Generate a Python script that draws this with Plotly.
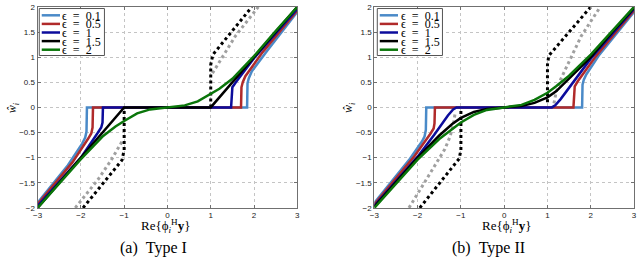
import plotly.graph_objects as go

W, H = 640, 267

EPS_LABELS = ["ϵ\u2002=\u20020.1", "ϵ\u2002=\u20020.5", "ϵ\u2002=\u20021",
              "ϵ\u2002=\u20021.5", "ϵ\u2002=\u20022"]
COLORS = ["#4a8ac8", "#b02a2a", "#0c0c9c", "#000000", "#0a760a"]

X_TICKS = [-3, -2, -1, 0, 1, 2, 3]
Y_TICKS = [-2, -1.5, -1, -0.5, 0, 0.5, 1, 1.5, 2]

# ---------------- Type I ----------------
T1_E01_X = [-3, -2.3, -1.97, -1.9, -1.87, -1.86, 1.84, 1.85, 1.88, 1.95, 2.3, 3]
T1_E01_Y = [-1.9, -1.15, -0.72, -0.6, -0.48, 0, 0, 0.48, 0.58, 0.72, 1.12, 1.9]
T1_E05_X = [-3, -2.2, -1.83, -1.76, -1.73, -1.72, 1.7, 1.71, 1.74, 1.8, 2.2, 3]
T1_E05_Y = [-1.93, -1.1, -0.62, -0.52, -0.4, 0, 0, 0.4, 0.5, 0.62, 1.1, 1.93]
T1_E1_X = [-3, -2, -1.62, -1.53, -1.5, -1.49, 1.47, 1.48, 1.5, 1.58, 2, 3]
T1_E1_Y = [-1.96, -1.0, -0.52, -0.4, -0.3, 0, 0, 0.3, 0.4, 0.5, 0.98, 1.96]
T1_E15_X = [-3, -1, 1, 3]
T1_E15_Y = [-2, 0, 0, 2]
T1_E2_X = [-3, -2.5, -2, -1.5, -1.2, -1, -0.7, -0.4, 0, 0.4, 0.7, 1, 1.2, 1.5, 2, 2.5, 3]
T1_E2_Y = [-2, -1.52, -1.03, -0.58, -0.38, -0.27, -0.12, -0.04, 0, 0.04, 0.12, 0.26, 0.37, 0.57, 1.02, 1.52, 2.0]
T1_HARD_X = [-1.95, -1.05, -1.0, -1.0, None, 1.0, 1.0, 1.05, 1.95]
T1_HARD_Y = [-2, -1.05, -0.85, 0, None, 0, 0.85, 1.05, 2]
T1_GRAY_X = [-2.13, -1.6, -1.3, -1.05, None, 1.04, 1.3, 1.57, 2.1]
T1_GRAY_Y = [-2, -1.43, -1.05, -0.68, None, 0.68, 1.05, 1.42, 2.0]

# ---------------- Type II ----------------
T2_E01_X = [-3, -2.2, -1.9, -1.84, -1.81, -1.8, 1.8, 1.81, 1.84, 1.9, 2.2, 3]
T2_E01_Y = [-1.9, -1.05, -0.68, -0.58, -0.45, 0, 0, 0.45, 0.55, 0.66, 1.05, 1.9]
T2_E05_X = [-3, -2.1, -1.7, -1.63, -1.61, -1.6, 1.6, 1.61, 1.63, 1.7, 2.1, 3]
T2_E05_Y = [-1.93, -1.0, -0.52, -0.42, -0.32, 0, 0, 0.32, 0.42, 0.52, 1.0, 1.93]
T2_E1_X = [-3, -2, -1.62, -1.45, -1.3, -1.18, -1.1, 1.1, 1.18, 1.3, 1.45, 1.64, 2, 3]
T2_E1_Y = [-1.96, -0.98, -0.55, -0.33, -0.16, -0.04, 0, 0, 0.04, 0.16, 0.33, 0.55, 0.97, 1.96]
T2_E15_X = [-3, -2.5, -2, -1.5, -1.2, -1, -0.7, -0.4, 0, 0.4, 0.7, 1, 1.2, 1.5, 2, 2.5, 3]
T2_E15_Y = [-1.98, -1.5, -1.0, -0.56, -0.33, -0.21, -0.09, -0.03, 0, 0.03, 0.09, 0.2, 0.32, 0.57, 1.0, 1.5, 1.98]
T2_E2_X = [-3, -2.5, -2, -1.5, -1.2, -1, -0.7, -0.4, 0, 0.4, 0.7, 1, 1.2, 1.5, 2, 2.5, 3]
T2_E2_Y = [-2, -1.52, -1.04, -0.63, -0.43, -0.3, -0.15, -0.05, 0, 0.05, 0.15, 0.29, 0.42, 0.63, 1.05, 1.52, 2]
T2_HARD_X = [-1.95, -1.04, -1.0, -1.0, None, 1.0, 1.0, 1.03, 2.0]
T2_HARD_Y = [-2, -1.02, -0.85, -0.02, None, 0.1, 0.85, 1.03, 2.0]
T2_GRAY_X = [-2.2, -1.75, -1.37, -1.25, -1.17, -1.13, None, 1.15, 1.2, 1.3, 1.43, 1.78, 2.22]
T2_GRAY_Y = [-2, -1.38, -0.83, -0.58, -0.32, -0.1, None, 0.08, 0.3, 0.55, 0.78, 1.42, 2.0]

panels = [
    dict(xa="x", ya="y",
         curves=[(T1_E01_X, T1_E01_Y), (T1_E05_X, T1_E05_Y), (T1_E1_X, T1_E1_Y),
                 (T1_E15_X, T1_E15_Y), (T1_E2_X, T1_E2_Y)],
         hard=(T1_HARD_X, T1_HARD_Y), gray=(T1_GRAY_X, T1_GRAY_Y)),
    dict(xa="x2", ya="y2",
         curves=[(T2_E01_X, T2_E01_Y), (T2_E05_X, T2_E05_Y), (T2_E1_X, T2_E1_Y),
                 (T2_E15_X, T2_E15_Y), (T2_E2_X, T2_E2_Y)],
         hard=(T2_HARD_X, T2_HARD_Y), gray=(T2_GRAY_X, T2_GRAY_Y)),
]

fig = go.Figure()
for p in panels:
    gx, gy = p["gray"]
    fig.add_trace(go.Scatter(x=gx, y=gy, mode="lines", xaxis=p["xa"], yaxis=p["ya"],
                             line=dict(color="#a0a0a0", width=3, dash="3px,3px"),
                             showlegend=False, connectgaps=False, hoverinfo="skip"))
    hx, hy = p["hard"]
    fig.add_trace(go.Scatter(x=hx, y=hy, mode="lines", xaxis=p["xa"], yaxis=p["ya"],
                             line=dict(color="#000000", width=3, dash="3px,3px"),
                             showlegend=False, connectgaps=False, hoverinfo="skip"))
    for (cx, cy), col in zip(p["curves"], COLORS):
        fig.add_trace(go.Scatter(x=cx, y=cy, mode="lines", xaxis=p["xa"], yaxis=p["ya"],
                                 line=dict(color=col, width=2.5), showlegend=False,
                                 hoverinfo="skip"))

def px2x(px):
    return px / W

def py2y(py):
    return 1 - py / H

ax_common = dict(
    showline=True, mirror="allticks", linecolor="#707070", linewidth=1,
    ticks="inside", ticklen=3, tickcolor="#707070",
    showgrid=True, gridcolor="#c4c4c4", griddash="dot", gridwidth=1,
    zeroline=False, ticklabeloverflow="allow",
    tickfont=dict(family="Liberation Sans, Arial", size=8, color="#222"),
)

xdomL = [px2x(33), px2x(296)]
xdomR = [px2x(374), px2x(637)]
ydom = [py2y(211), py2y(3)]

fig.update_layout(
    width=W, height=H, margin=dict(l=0, r=0, t=0, b=0),
    paper_bgcolor="white", plot_bgcolor="white",
    xaxis=dict(domain=xdomL, range=[-3, 3], tickvals=X_TICKS, anchor="y", **ax_common),
    yaxis=dict(domain=ydom, range=[-2, 2], tickvals=Y_TICKS, anchor="x", **ax_common),
    xaxis2=dict(domain=xdomR, range=[-3, 3], tickvals=X_TICKS, anchor="y2", **ax_common),
    yaxis2=dict(domain=ydom, range=[-2, 2], tickvals=Y_TICKS, anchor="x2", **ax_common),
    showlegend=False,
)

serif = "Liberation Serif, DejaVu Serif, serif"
shapes = []
annotations = []
for ox, cx_title, ylab_x, cap_x, cap in [(34.7, 163, 9, 150, "(a)\u2002Type I"),
                                         (377, 508, 349, 490, "(b)\u2002Type II")]:
    shapes.append(dict(type="rect", xref="paper", yref="paper",
                       x0=px2x(ox), x1=px2x(ox + 66), y0=py2y(53.3), y1=py2y(4.7),
                       line=dict(color="#555", width=1), fillcolor="white", layer="above"))
    for i, (lab, col) in enumerate(zip(EPS_LABELS, COLORS)):
        yc = 11.7 + 8.9 * i
        shapes.append(dict(type="line", xref="paper", yref="paper",
                           x0=px2x(ox + 2.5), x1=px2x(ox + 21), y0=py2y(yc), y1=py2y(yc),
                           line=dict(color=col, width=2.5), layer="above"))
        annotations.append(dict(xref="paper", yref="paper", x=px2x(ox + 21.5), y=py2y(yc + 0.5),
                                text=lab, showarrow=False, xanchor="left", yanchor="middle",
                                font=dict(family=serif, size=12, color="black")))
    annotations.append(dict(xref="paper", yref="paper", x=px2x(cx_title), y=py2y(230),
                            text="Re{ϕ<sub><i>i</i></sub><sup>H</sup><b>y</b>}", showarrow=False,
                            xanchor="center", yanchor="middle",
                            font=dict(family=serif, size=13, color="black")))
    annotations.append(dict(xref="paper", yref="paper", x=px2x(ylab_x), y=py2y(107),
                            text="<i>ŵ</i><sub><i>i</i></sub>", showarrow=False, textangle=-90,
                            xanchor="center", yanchor="middle",
                            font=dict(family=serif, size=12, color="black")))
    annotations.append(dict(xref="paper", yref="paper", x=px2x(cap_x), y=py2y(253),
                            text=cap, showarrow=False, xanchor="center", yanchor="middle",
                            font=dict(family=serif, size=16, color="black")))

fig.update_layout(shapes=shapes, annotations=annotations)
fig.write_html("out.html", config={"displayModeBar": False, "responsive": False},
               post_script="document.body.style.margin='0';document.body.style.overflow='hidden';")
